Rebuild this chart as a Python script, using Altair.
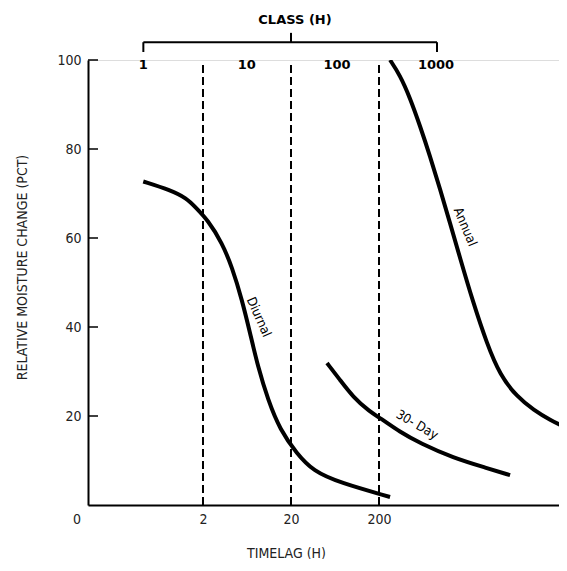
import altair as alt
import pandas as pd

# ---- data ----
diurnal_t = [0.419, 0.843, 1.31, 1.62, 2.28, 3.29, 4.27, 5.55, 6.84, 8.44, 10.96, 15.0, 23.2, 35.8, 72.1, 267]
diurnal_v = [72.7, 70.8, 68.9, 67.0, 64.0, 58.9, 53.5, 46.1, 38.7, 31.0, 23.6, 16.9, 11.6, 7.6, 5.0, 1.8]

day30_t = [51.3, 72.1, 101, 158, 205, 346, 585, 1387, 3375, 6170]
day30_v = [31.9, 28.1, 24.3, 20.9, 19.6, 16.4, 13.9, 10.6, 8.3, 6.7]

annual_t = [267, 346, 450, 585, 760, 987, 1282, 1667, 2340, 3375, 4740, 7400, 11530, 17530, 27350]
annual_v = [100, 96.6, 91.5, 85.2, 78.4, 71.0, 63.4, 55.5, 45.6, 36.2, 29.2, 24.3, 21.3, 19.1, 17.3]

timelag_lines = [2, 20, 200]
x_ticks = [2, 20, 200]
y_ticks = [20, 40, 60, 80, 100]

class_labels = ["1", "10", "100", "1000"]
class_pos = [0.42, 6.3, 66.7, 890]

curve_names = ["Diurnal", "30- Day", "Annual"]
curve_label_t = [8.6, 541, 1900]
curve_label_v = [42.2, 18.0, 62.5]
curve_label_angle = [66, 30, 67]

FONT = "DejaVu Sans Condensed, Liberation Sans Narrow, Liberation Sans, sans-serif"
BOLD_FONT = "DejaVu Sans, sans-serif"

# plot area spans x = 88..559 px (88 px per decade, as in the reference)
xs = alt.Scale(type="log", domain=[0.0987, 22200], nice=False)
ys = alt.Scale(domain=[0, 100], nice=False, zero=False)

x_axis = alt.Axis(values=x_ticks, format="d", ticks=False, grid=False,
                  domainColor="black", domainWidth=2,
                  labelFont=FONT, labelFontSize=14, labelColor="#222",
                  labelPadding=7, title="TIMELAG (H)", titleFont=FONT,
                  titleFontSize=14, titleFontWeight="normal", titleColor="#222",
                  titleX=198, titleY=48, titleBaseline="middle")
y_axis = alt.Axis(values=y_ticks, ticks=False, grid=False,
                  domainColor="black", domainWidth=2,
                  labelFont=FONT, labelFontSize=14, labelColor="#222",
                  labelPadding=7, title="RELATIVE MOISTURE CHANGE (PCT)",
                  titleFont=FONT, titleFontSize=14, titleFontWeight="normal",
                  titleColor="#222", titleAngle=270, titleX=-66, titleY=207,
                  titleBaseline="middle")


def X(f):
    return alt.X(f"{f}:Q", scale=xs, axis=x_axis)


def Y(f):
    return alt.Y(f"{f}:Q", scale=ys, axis=y_axis)


rows = []
for name, ts, vs in [("Diurnal", diurnal_t, diurnal_v),
                     ("30-Day", day30_t, day30_v),
                     ("Annual", annual_t, annual_v)]:
    for t, v in zip(ts, vs):
        rows.append({"series": name, "t": t, "v": v})
curves = pd.DataFrame(rows)

dash_df = pd.DataFrame({"t": timelag_lines, "v": [0] * 3, "v2": [98.9] * 3})
dashes = alt.Chart(dash_df).mark_rule(color="black", strokeWidth=2, strokeDash=[8, 4]).encode(
    x=X("t"), y=Y("v"), y2="v2")

lines = alt.Chart(curves).mark_line(color="black", strokeWidth=4, interpolate="basis",
                                    strokeCap="butt", clip=True).encode(
    x=X("t"), y=Y("v"), detail="series:N")

lab_df = pd.DataFrame({"t": curve_label_t, "v": curve_label_v, "a": curve_label_angle,
                       "txt": curve_names})
curve_labels = alt.Chart(lab_df).mark_text(font=FONT, fontSize=13, color="black").encode(
    x=X("t"), y=Y("v"), text="txt:N", angle=alt.Angle("a:Q", scale=None))

ytick_df = pd.DataFrame({"v": y_ticks})
yticks = alt.Chart(ytick_df).mark_rule(color="black", strokeWidth=1.5).encode(
    y=Y("v"), x=alt.value(0), x2=alt.value(10))

cls_df = pd.DataFrame({"t": class_pos, "v": [98.9] * 4, "txt": class_labels})
cls = alt.Chart(cls_df).mark_text(font=BOLD_FONT, fontWeight="bold", fontSize=13,
                                  color="black", baseline="middle").encode(
    x=X("t"), y=Y("v"), text="txt:N")

# bracket above class labels
br_h = pd.DataFrame({"t": [0.42], "t2": [912], "v": [104.0]})
bracket_h = alt.Chart(br_h).mark_rule(color="black", strokeWidth=2).encode(
    x=X("t"), x2="t2", y=Y("v"))
br_v = pd.DataFrame({"t": [0.42, 912, 20], "v": [101.8, 101.8, 104.0], "v2": [104.0, 104.0, 106.1]})
bracket_v = alt.Chart(br_v).mark_rule(color="black", strokeWidth=2).encode(
    x=X("t"), y=Y("v"), y2="v2")

title_df = pd.DataFrame({"t": [22.2], "v": [109.0], "txt": ["CLASS (H)"]})
title = alt.Chart(title_df).mark_text(font=BOLD_FONT, fontWeight="bold", fontSize=13,
                                      color="black", baseline="middle").encode(
    x=X("t"), y=Y("v"), text="txt:N")

zero_df = pd.DataFrame({"t": [0.074], "v": [-3.4], "txt": ["0"]})
zero = alt.Chart(zero_df).mark_text(font=FONT, fontSize=14, color="#222", baseline="middle").encode(
    x=X("t"), y=Y("v"), text="txt:N")

chart = alt.layer(dashes, lines, curve_labels, yticks, cls, bracket_h, bracket_v, title, zero).properties(
    width=471, height=445,
    autosize=alt.AutoSizeParams(type="none"),
    padding={"left": 80, "top": 52, "right": 0, "bottom": 54},
).configure_view(stroke=None).configure(background="white")

chart.save("out.html", embed_options={"renderer": "svg", "actions": False})
